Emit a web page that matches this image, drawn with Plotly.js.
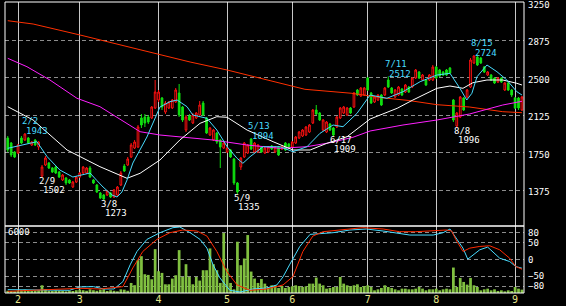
<!DOCTYPE html>
<html><head><meta charset="utf-8">
<script src="https://cdn.plot.ly/plotly-3.0.1.min.js"></script>
<style>html,body{margin:0;padding:0;background:#000;}#chart{width:566px;height:306px;}</style>
</head><body><div id="chart"></div>
<script>
// ---- daily candles (trading-day index 0..150) ----
const opens = [1895,1845,1755,1745,1895,1875,1895,1825,1875,1805,
1515,1625,1645,1595,1605,1555,1475,1495,1475,1405,
1455,1505,1545,1545,1595,1475,1425,1345,1325,1325,
1345,1305,1325,1425,1615,1625,1705,1795,1805,2095,
2105,2105,2095,2195,2275,2295,2155,2195,2195,2255,
2345,2205,1975,2115,2045,2095,2125,2245,2095,1925,
1875,1945,1875,1795,1755,1775,1685,1445,1605,1705,
1745,1885,1755,1755,1805,1745,1755,1815,1755,1805,
1785,1845,1835,1805,1845,1895,1915,1925,1955,2045,
2175,2145,1975,1955,2035,1995,2005,2095,2145,2125,
2195,2205,2375,2315,2325,2495,2345,2255,2275,2325,
2325,2475,2395,2305,2325,2385,2355,2405,2405,2495,
2555,2475,2475,2475,2475,2605,2575,2555,2575,2595,
2275,2015,2105,2295,2305,2405,2645,2705,2695,2605,
2525,2525,2495,2455,2495,2375,2445,2375,2295,2295,
2175];
const highs = [1915,1855,1765,1835,1915,1943,1905,1865,1885,1865,
1625,1715,1655,1605,1615,1565,1535,1505,1485,1465,
1515,1555,1615,1605,1615,1485,1435,1355,1335,1375,
1355,1385,1415,1565,1635,1705,1845,1875,2025,2135,
2135,2125,2215,2475,2375,2305,2265,2265,2285,2395,
2435,2215,2125,2135,2145,2155,2265,2265,2105,2005,
1985,1955,1885,1855,1805,1785,1695,1455,1705,1855,
1835,1894,1855,1835,1815,1805,1815,1825,1815,1815,
1825,1855,1845,1865,1915,1965,1985,2015,2035,2185,
2225,2155,2085,2065,2045,2005,2115,2205,2215,2205,
2205,2355,2385,2405,2405,2505,2355,2315,2335,2335,
2405,2512,2405,2385,2415,2395,2435,2415,2505,2585,
2565,2535,2485,2535,2625,2615,2585,2565,2585,2605,
2285,2155,2315,2305,2385,2695,2724,2715,2705,2615,
2565,2535,2505,2505,2505,2455,2455,2385,2305,2305,
2315];
const lows = [1755,1705,1695,1735,1835,1865,1835,1815,1815,1775,
1502,1615,1585,1545,1535,1495,1465,1425,1435,1395,
1445,1495,1535,1535,1495,1435,1345,1285,1273,1315,
1295,1295,1315,1415,1555,1615,1695,1785,1795,1995,
2005,2035,2085,2185,2255,2175,2135,2185,2185,2245,
2105,2055,1955,2065,2035,2085,2115,2115,1935,1915,
1865,1835,1595,1785,1745,1695,1425,1335,1575,1695,
1735,1775,1745,1745,1745,1735,1745,1775,1745,1715,
1775,1765,1785,1795,1835,1885,1905,1915,1945,2035,
2125,2065,1965,1945,1965,1909,1995,2085,2135,2115,
2135,2195,2315,2305,2315,2365,2235,2245,2265,2215,
2315,2395,2335,2295,2315,2315,2345,2345,2395,2485,
2485,2465,2415,2465,2465,2485,2505,2515,2515,2535,
2055,1996,2095,2165,2295,2395,2635,2615,2635,2545,
2515,2465,2435,2445,2445,2365,2365,2305,2185,2175,
2165];
const closes = [1775,1725,1705,1825,1845,1935,1845,1855,1825,1855,
1605,1695,1595,1555,1545,1505,1525,1445,1445,1455,
1505,1545,1605,1595,1505,1445,1355,1295,1285,1365,
1305,1375,1405,1545,1565,1685,1825,1855,2005,2025,
2045,2055,2205,2355,2355,2205,2245,2255,2275,2375,
2125,2075,2105,2075,2125,2145,2225,2125,1945,1995,
1975,1855,1805,1845,1795,1705,1445,1355,1695,1845,
1825,1785,1845,1825,1755,1795,1805,1785,1805,1725,
1815,1775,1795,1855,1905,1955,1975,2005,2025,2175,
2135,2075,2075,2055,1975,1925,2105,2195,2205,2195,
2145,2345,2325,2395,2395,2375,2245,2305,2325,2225,
2395,2405,2345,2375,2405,2325,2425,2355,2495,2575,
2495,2525,2425,2525,2605,2495,2515,2525,2525,2545,
2075,2145,2305,2175,2375,2675,2715,2625,2645,2555,
2555,2475,2445,2495,2455,2445,2375,2325,2195,2195,
2305];
const volumes = [200,180,150,220,250,300,200,180,220,250,
690,330,200,180,220,200,180,150,200,180,
250,300,250,200,330,250,200,300,330,180,
250,200,150,330,300,200,900,700,2940,3300,
1680,1620,1230,3930,1950,1800,780,780,1290,1590,
3840,1440,2580,1440,780,1440,1110,2040,2040,3990,
2580,2040,900,5370,2190,900,330,4590,2490,3090,
5190,1920,1290,900,1260,840,540,690,690,450,
630,450,540,600,690,630,540,600,840,840,
1380,840,690,390,450,540,540,1440,840,690,
600,690,780,540,630,690,540,240,330,450,
690,540,450,330,240,390,390,330,330,390,
540,390,240,330,330,390,240,330,390,330,
2280,540,1350,990,750,1350,690,540,240,330,
390,240,330,180,240,150,240,180,540,390,
300];

// ---- moving averages (sparse points) ----
const maShortX = [0,3.9,8.5,11.5,15.2,19,24,26,27.8,30.4,31.9,33.3,34.8,36.5,38.6,40.6,44.4,47.3,49.4,52.3,54,58.1,61,64,66.9,68.6,70.7,74.5,79.4,83.2,87.3,91.1,94.9,97.8,101.9,105.7,110.6,115.3,120.3,125.2,129,131.9,133.9,135.4,136.9,139.8,142.7,145.6,148.5,150];
const maShortY = [1792,1825,1858,1708,1575,1505,1545,1470,1405,1325,1305,1355,1475,1645,1775,1905,2205,2258,2275,2208,2125,2092,1975,1808,1692,1642,1708,1808,1808,1758,1808,1942,2025,2008,2142,2325,2292,2358,2458,2525,2542,2392,2275,2342,2508,2625,2558,2475,2358,2325];
const maMidX = [0,7.4,17.3,26.9,34.8,38.6,44.4,50.2,56.1,61,64,69.8,77.4,83.2,88.2,93.1,99,105.7,113.6,118.2,125.2,129,132.8,135.7,139.8,144.4,148.5,150];
const maMidY = [2208,2075,1775,1608,1492,1542,1675,1875,2042,2108,2102,1975,1858,1775,1775,1842,1908,2085,2192,2275,2392,2415,2392,2448,2475,2475,2442,2425];
const maLongX = [0,5.6,12.3,20.2,26.9,34.8,38.6,44.4,53.2,59.9,69.8,79.4,87.3,94,100.7,105.7,115.3,125.2,134.7,139.8,144.4,150];
const maLongY = [2692,2608,2475,2292,2208,2045,1958,1925,1898,1875,1825,1792,1808,1848,1902,1965,2025,2075,2135,2185,2225,2262];
const maVLongX = [0,7.4,21.1,26.9,42.4,53.2,64,83.2,86.7,100.4,108.6,117,125.2,134.7,144.4,150];
const maVLongY = [3068,3035,2925,2875,2745,2655,2575,2415,2382,2342,2300,2270,2228,2205,2158,2148];

// ---- oscillator lines (lower panel) ----
const oscFastX = [0,18,21,25,28,31,33.6,35.7,37.7,40.6,44.4,48.2,50.2,53.2,56.1,58.1,59.9,61.9,64.8,67.8,71.5,75.6,78.5,80.3,82.2,85.2,88.2,91.1,94.9,99.8,104.6,109.5,113.3,117.3,124.1,127,129,130.7,132.8,134.2,135.7,137.7,140,141.5,143.5,146.4,148.2,150];
const oscFastY = [-90,-92,-82,-81,-88,-88,-66,-16,24,60,80,95,97,80,60,34,-16,-55,-92,-97,-88,-85,-76,-52,-16,39,75,77,80,88,91,85,80,73,73,80,91,65,34,1,14,29,37,24,4,-6,-21,-26];
const oscSlowX = [0,21,27,33.6,36.5,39.4,43.5,47.3,51.1,55.2,58.1,61,63.9,66.9,70.7,75.6,80.3,83.2,86.1,89,92,97.8,103.6,109.5,114.3,119,124.1,128,129.5,130.7,132.8,134.8,137.7,140.6,143.5,146.4,148.2,150];
const oscSlowY = [-95,-86,-88,-81,-25,24,60,80,88,85,70,24,-36,-76,-92,-88,-76,-51,24,70,83,88,95,91,83,83,85,88,85,60,24,34,39,41,29,4,-21,-29];

// ---- ticks and labels ----
const monthTickIdx = [3,21,44,64,83,105,125,148];
const monthLabels = ['2','3','4','5','6','7','8','9'];
const priceTicks = [1375,1750,2125,2500,2875,3250];
const oscTicks = [-80,-50,0,50,80];
const volMax = 6000;
const markIdx = [5,10,28,67,71,95,111,131,136];
const markDate = ['2/2','2/9','3/8','5/9','5/13','6/17','7/11','8/8','8/15'];
const markKind = ['H','L','L','L','H','L','H','L','H'];

const idx = opens.map((_, i) => i);
const CYAN = '#48dcff';
const FONT = 'DejaVu Sans Mono';

const traces = [
  {type:'bar', x:idx, y:volumes, xaxis:'x', yaxis:'y2', width:0.8,
   marker:{color:'#80c040', line:{width:0}}, hoverinfo:'skip'},
  {type:'scatter', mode:'lines', x:oscFastX, y:oscFastY, xaxis:'x', yaxis:'y3',
   line:{color:CYAN, width:1}, hoverinfo:'skip'},
  {type:'scatter', mode:'lines', x:oscSlowX, y:oscSlowY, xaxis:'x', yaxis:'y3',
   line:{color:'#ff2a00', width:1}, hoverinfo:'skip'},
  {type:'candlestick', x:idx, open:opens, high:highs, low:lows, close:closes, xaxis:'x', yaxis:'y',
   increasing:{line:{color:'#ff1010', width:1}, fillcolor:'#000000'},
   decreasing:{line:{color:'#10e010', width:1}, fillcolor:'#10e010'},
   whiskerwidth:0, hoverinfo:'skip'},
  {type:'scatter', mode:'lines', x:maVLongX, y:maVLongY, xaxis:'x', yaxis:'y', line:{color:'#ff3000', width:1}, hoverinfo:'skip'},
  {type:'scatter', mode:'lines', x:maLongX, y:maLongY, xaxis:'x', yaxis:'y', line:{color:'#ff20ff', width:1}, hoverinfo:'skip'},
  {type:'scatter', mode:'lines', x:maMidX, y:maMidY, xaxis:'x', yaxis:'y', line:{color:'#ffffff', width:1}, hoverinfo:'skip'},
  {type:'scatter', mode:'lines', x:maShortX, y:maShortY, xaxis:'x', yaxis:'y', line:{color:CYAN, width:1}, hoverinfo:'skip'}
];

const LOW = 67/291;
const annotations = [];
markIdx.forEach((k, j) => {
  const isHigh = markKind[j] === 'H';
  const val = isHigh ? highs[k] : lows[k];
  const col = isHigh ? CYAN : '#ffffff';
  annotations.push({x:k, y:val, xref:'x', yref:'y', text:markDate[j], showarrow:false,
    xanchor:'left', yanchor:'middle', xshift:-5, yshift: isHigh ? 12 : -3.5,
    font:{family:FONT, size:9, color:col}});
  annotations.push({x:k, y:val, xref:'x', yref:'y', text:String(val), showarrow:false,
    xanchor:'left', yanchor:'middle', xshift:-1, yshift: isHigh ? 2.5 : -12.5,
    font:{family:FONT, size:9, color:col}});
});
annotations.push({x:0, xref:'paper', y:volMax, yref:'y2', text:String(volMax), showarrow:false,
  xanchor:'left', yanchor:'top', xshift:1, yshift:1, font:{family:FONT, size:9, color:'#ffffff'}});

const layout = {
  width:566, height:306,
  margin:{l:5, r:42, t:2, b:13, pad:0},
  paper_bgcolor:'#000', plot_bgcolor:'#000',
  showlegend:false, hovermode:false, dragmode:false,
  xaxis:{range:[-0.8,150.6], tickvals:monthTickIdx, ticktext:monthLabels, showgrid:true,
    gridcolor:'#c8c8c8', gridwidth:1, zeroline:false, showline:false, ticks:'',
    ticklabelstandoff:-1,
    tickfont:{family:FONT, size:10, color:'#e6e68a'}, anchor:'y2', rangeslider:{visible:false}},
  yaxis:{domain:[LOW,1], range:[1015,3255], side:'right', tickvals:priceTicks, showgrid:true,
    gridcolor:'#8c8c8c', griddash:'4px,3px', zeroline:false, showline:false, ticks:'',
    ticklabelshift:2, ticklabelstandoff:3, ticklabeloverflow:'allow',
    tickfont:{family:FONT, size:9, color:'#ffffff'}},
  yaxis2:{domain:[0,LOW], range:[0,volMax], showgrid:false, showticklabels:false, zeroline:false, showline:false},
  yaxis3:{domain:[0,LOW], overlaying:'y2', range:[-100,100], side:'right', tickvals:oscTicks, showgrid:true,
    gridcolor:'#8c8c8c', griddash:'4px,3px', zeroline:false, showline:false, ticks:'', ticklabelstandoff:3,
    ticklabeloverflow:'allow',
    tickfont:{family:FONT, size:9, color:'#ffffff'}},
  shapes:[
    {type:'line', xref:'paper', x0:0, x1:1, yref:'y3', y0:0, y1:0, line:{color:'#ffffff', width:1, dash:'4px,3px'}, layer:'below'},
    {type:'rect', xref:'paper', yref:'paper', x0:0, x1:1, y0:LOW, y1:1, line:{color:'#ffffff', width:1}, fillcolor:'rgba(0,0,0,0)'},
    {type:'rect', xref:'paper', yref:'paper', x0:0, x1:1, y0:0, y1:LOW, line:{color:'#ffffff', width:1}, fillcolor:'rgba(0,0,0,0)'}
  ],
  annotations: annotations
};

Plotly.newPlot('chart', traces, layout, {displayModeBar:false, staticPlot:true});
</script></body></html>
